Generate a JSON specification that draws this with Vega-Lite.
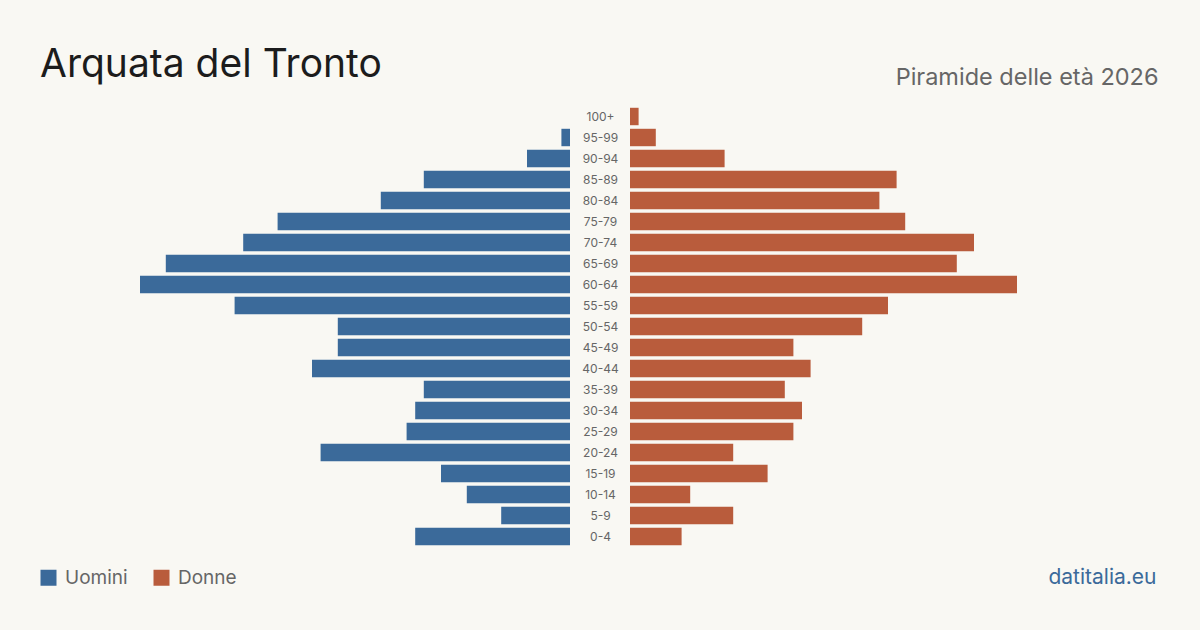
{
  "$schema": "https://vega.github.io/schema/vega-lite/v6.json",
  "width": 1200,
  "height": 441,
  "autosize": {"type": "none"},
  "padding": {"top": 106, "bottom": 83, "left": 0, "right": 0},
  "background": "#f9f8f3",
  "config": {"view": {"stroke": null}, "font": "Inter"},
  "title": {
    "text": "Arquata del Tronto",
    "anchor": "start",
    "frame": "group",
    "font": "Inter",
    "fontSize": 39,
    "fontWeight": "normal",
    "color": "#1c1c1c",
    "baseline": "alphabetic",
    "dx": 40,
    "dy": 70,
    "offset": 19
  },
  "data": {
    "values": [
      {"eta": "100+", "sesso": "Uomini", "n": 0},
      {"eta": "95-99", "sesso": "Uomini", "n": 1},
      {"eta": "90-94", "sesso": "Uomini", "n": 5},
      {"eta": "85-89", "sesso": "Uomini", "n": 17},
      {"eta": "80-84", "sesso": "Uomini", "n": 22},
      {"eta": "75-79", "sesso": "Uomini", "n": 34},
      {"eta": "70-74", "sesso": "Uomini", "n": 38},
      {"eta": "65-69", "sesso": "Uomini", "n": 47},
      {"eta": "60-64", "sesso": "Uomini", "n": 50},
      {"eta": "55-59", "sesso": "Uomini", "n": 39},
      {"eta": "50-54", "sesso": "Uomini", "n": 27},
      {"eta": "45-49", "sesso": "Uomini", "n": 27},
      {"eta": "40-44", "sesso": "Uomini", "n": 30},
      {"eta": "35-39", "sesso": "Uomini", "n": 17},
      {"eta": "30-34", "sesso": "Uomini", "n": 18},
      {"eta": "25-29", "sesso": "Uomini", "n": 19},
      {"eta": "20-24", "sesso": "Uomini", "n": 29},
      {"eta": "15-19", "sesso": "Uomini", "n": 15},
      {"eta": "10-14", "sesso": "Uomini", "n": 12},
      {"eta": "5-9", "sesso": "Uomini", "n": 8},
      {"eta": "0-4", "sesso": "Uomini", "n": 18},
      {"eta": "100+", "sesso": "Donne", "n": 1},
      {"eta": "95-99", "sesso": "Donne", "n": 3},
      {"eta": "90-94", "sesso": "Donne", "n": 11},
      {"eta": "85-89", "sesso": "Donne", "n": 31},
      {"eta": "80-84", "sesso": "Donne", "n": 29},
      {"eta": "75-79", "sesso": "Donne", "n": 32},
      {"eta": "70-74", "sesso": "Donne", "n": 40},
      {"eta": "65-69", "sesso": "Donne", "n": 38},
      {"eta": "60-64", "sesso": "Donne", "n": 45},
      {"eta": "55-59", "sesso": "Donne", "n": 30},
      {"eta": "50-54", "sesso": "Donne", "n": 27},
      {"eta": "45-49", "sesso": "Donne", "n": 19},
      {"eta": "40-44", "sesso": "Donne", "n": 21},
      {"eta": "35-39", "sesso": "Donne", "n": 18},
      {"eta": "30-34", "sesso": "Donne", "n": 20},
      {"eta": "25-29", "sesso": "Donne", "n": 19},
      {"eta": "20-24", "sesso": "Donne", "n": 12},
      {"eta": "15-19", "sesso": "Donne", "n": 16},
      {"eta": "10-14", "sesso": "Donne", "n": 7},
      {"eta": "5-9", "sesso": "Donne", "n": 12},
      {"eta": "0-4", "sesso": "Donne", "n": 6}
    ]
  },
  "layer": [
    {
      "transform": [{"filter": "datum.sesso === 'Uomini'"}],
      "mark": {"type": "bar"},
      "encoding": {
        "y": {
          "field": "eta",
          "type": "nominal",
          "sort": ["100+", "95-99", "90-94", "85-89", "80-84", "75-79", "70-74", "65-69", "60-64", "55-59", "50-54", "45-49", "40-44", "35-39", "30-34", "25-29", "20-24", "15-19", "10-14", "5-9", "0-4"],
          "scale": {"paddingInner": 0.17, "paddingOuter": 0.085},
          "axis": {
            "title": null,
            "orient": "left",
            "offset": -600,
            "domain": false,
            "ticks": false,
            "grid": false,
            "labelAlign": "center",
            "labelPadding": 0,
            "labelFontSize": 12,
            "labelColor": "#666666",
            "labelFont": "Inter"
          }
        },
        "x": {
          "field": "n",
          "type": "quantitative",
          "scale": {"domain": [0, 50], "range": [570, 140]},
          "axis": {
            "orient": "bottom",
            "title": "datitalia.eu",
            "labels": false,
            "ticks": false,
            "domain": false,
            "grid": false,
            "titleX": 1156,
            "titleY": 36,
            "titleAlign": "right",
            "titleAnchor": null,
            "titleBaseline": "alphabetic",
            "titleFont": "Inter",
            "titleFontSize": 21,
            "titleFontWeight": "normal",
            "titleColor": "#3b6a9a"
          }
        },
        "color": {
          "field": "sesso",
          "type": "nominal",
          "scale": {"domain": ["Uomini", "Donne"], "range": ["#3b6a9a", "#b95c3c"]},
          "legend": {
            "title": null,
            "orient": "none",
            "legendX": 39,
            "legendY": 462,
            "direction": "horizontal",
            "symbolType": "square",
            "symbolSize": 256,
            "symbolStrokeWidth": 0,
            "labelFontSize": 19,
            "labelColor": "#666666",
            "labelFont": "Inter",
            "labelOffset": 7,
            "columnPadding": 24
          }
        }
      }
    },
    {
      "transform": [{"filter": "datum.sesso === 'Donne'"}],
      "mark": {"type": "bar"},
      "encoding": {
        "y": {
          "field": "eta",
          "type": "nominal",
          "sort": ["100+", "95-99", "90-94", "85-89", "80-84", "75-79", "70-74", "65-69", "60-64", "55-59", "50-54", "45-49", "40-44", "35-39", "30-34", "25-29", "20-24", "15-19", "10-14", "5-9", "0-4"]
        },
        "x": {
          "field": "n",
          "type": "quantitative",
          "scale": {"domain": [0, 50], "range": [630, 1060]},
          "axis": {
            "orient": "top",
            "title": "Piramide delle età 2026",
            "labels": false,
            "ticks": false,
            "domain": false,
            "grid": false,
            "titleX": 1158,
            "titleY": -22,
            "titleAlign": "right",
            "titleAnchor": null,
            "titleBaseline": "alphabetic",
            "titleFont": "Inter",
            "titleFontSize": 23.5,
            "titleFontWeight": "normal",
            "titleColor": "#666666"
          }
        },
        "color": {
          "field": "sesso",
          "type": "nominal"
        }
      }
    }
  ],
  "resolve": {"scale": {"x": "independent"}, "axis": {"x": "independent"}}
}
